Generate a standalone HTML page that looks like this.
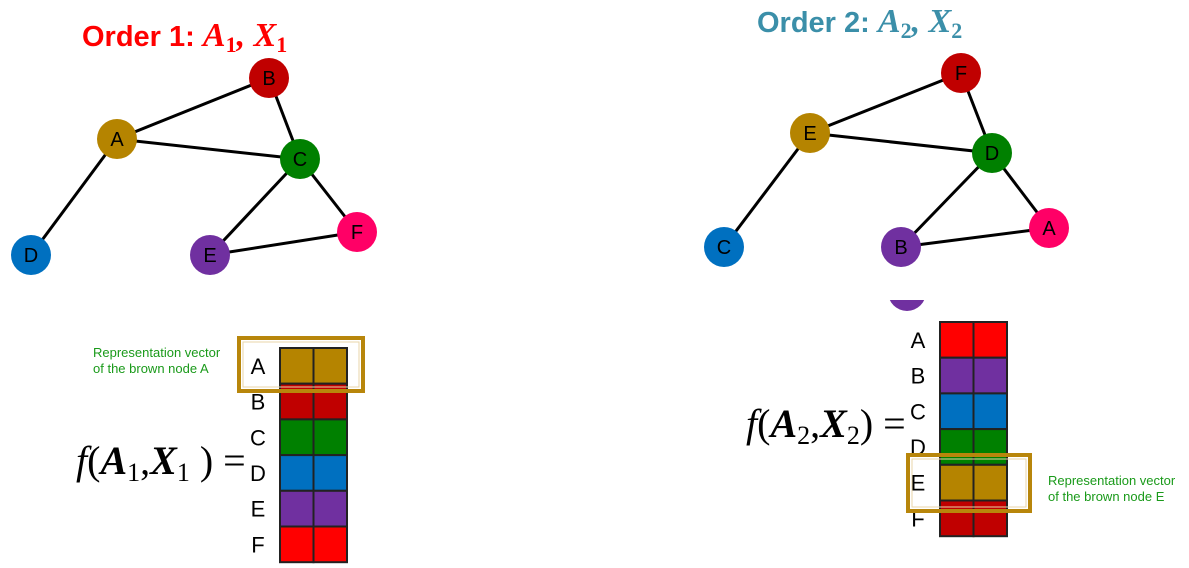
<!DOCTYPE html>
<html><head><meta charset="utf-8"><style>
body{margin:0;background:#fff;width:1189px;height:568px;overflow:hidden;}
svg{display:block}
</style></head><body>
<svg width="1189" height="568" viewBox="0 0 1189 568" font-family="Liberation Sans, sans-serif">
<text x="82" y="46" font-size="29" font-weight="bold" fill="#ff0000">Order 1: <tspan font-family="Liberation Serif, serif" font-style="italic" font-size="34">A</tspan><tspan font-size="22" dy="6" font-family="Liberation Serif, serif">1</tspan><tspan dy="-6" font-family="Liberation Serif, serif" font-style="italic" font-size="34">, X</tspan><tspan font-size="22" dy="6" font-family="Liberation Serif, serif">1</tspan></text>
<text x="757" y="32" font-size="29" font-weight="bold" fill="#3b8fa9">Order 2: <tspan font-family="Liberation Serif, serif" font-style="italic" font-size="34">A</tspan><tspan font-size="22" dy="6" font-family="Liberation Serif, serif">2</tspan><tspan dy="-6" font-family="Liberation Serif, serif" font-style="italic" font-size="34">, X</tspan><tspan font-size="22" dy="6" font-family="Liberation Serif, serif">2</tspan></text>
<g id="g1"></g>
<g id="g2"></g>
<circle cx="907" cy="292" r="19" fill="#7030a0"/>
<rect x="870" y="272" width="80" height="28" fill="#fff"/>
<g id="m1"></g>
<g id="m2"></g>
<text x="76" y="474" font-size="40" font-family="Liberation Serif, serif"><tspan font-style="italic">f</tspan>(<tspan font-weight="bold" font-style="italic">A</tspan><tspan font-size="26" dy="7">1</tspan><tspan dy="-7">,</tspan><tspan font-weight="bold" font-style="italic">X</tspan><tspan font-size="26" dy="7">1</tspan><tspan dy="-7"> ) =</tspan></text>
<text x="746" y="437" font-size="40" font-family="Liberation Serif, serif"><tspan font-style="italic">f</tspan>(<tspan font-weight="bold" font-style="italic">A</tspan><tspan font-size="26" dy="7">2</tspan><tspan dy="-7">,</tspan><tspan font-weight="bold" font-style="italic">X</tspan><tspan font-size="26" dy="7">2</tspan><tspan dy="-7">) =</tspan></text>
<text x="93" y="357" font-size="13" fill="#1a9a1a"><tspan x="93">Representation vector</tspan><tspan x="93" dy="16">of the brown node A</tspan></text>
<text x="1048" y="485" font-size="13" fill="#1a9a1a"><tspan x="1048">Representation vector</tspan><tspan x="1048" dy="16">of the brown node E</tspan></text>
<rect x="239" y="338" width="124" height="53" fill="none" stroke="#b8860b" stroke-width="4"/>
<rect x="243" y="342" width="116" height="45" fill="none" stroke="#e8d6a8" stroke-width="1"/>
<rect x="908" y="455" width="122" height="56" fill="none" stroke="#b8860b" stroke-width="4"/>
<rect x="912" y="459" width="114" height="48" fill="none" stroke="#e8d6a8" stroke-width="1"/>
</svg>
<script>
const C={brown:'#b58400',red:'#c00000',green:'#008000',blue:'#0070c0',purple:'#7030a0',pink:'#ff0066',bright:'#ff0000'};
const nodes1=[['A',117,139,'brown'],['B',269,78,'red'],['C',300,159,'green'],['D',31,255,'blue'],['E',210,255,'purple'],['F',357,232,'pink']];
const edges1=[['A','B'],['A','C'],['A','D'],['B','C'],['C','E'],['C','F'],['E','F']];
const nodes2=[['E',810,133,'brown'],['F',961,73,'red'],['D',992,153,'green'],['C',724,247,'blue'],['B',901,247,'purple'],['A',1049,228,'pink']];
const edges2=[['E','F'],['E','D'],['E','C'],['F','D'],['D','B'],['D','A'],['B','A']];
const rows1=['A','B','C','D','E','F'], cols1=['brown','red','green','blue','purple','bright'];
const rows2=['A','B','C','D','E','F'], cols2=['bright','purple','blue','green','brown','red'];
const NS='http://www.w3.org/2000/svg';
function mk(t,a,p){const e=document.createElementNS(NS,t);for(const k in a)e.setAttribute(k,a[k]);p.appendChild(e);return e;}
function graph(id,nodes,edges){
 const g=document.getElementById(id);const m={};nodes.forEach(n=>m[n[0]]=n);
 edges.forEach(e=>{const a=m[e[0]],b=m[e[1]];const l=mk('line',{x1:a[1],y1:a[2],x2:b[1],y2:b[2],stroke:'#000','stroke-width':3},g);
 
 });
 nodes.forEach(n=>{const c=mk('circle',{cx:n[1],cy:n[2],r:20,fill:C[n[3]]},g);
 
 
 const t=mk('text',{x:n[1],y:n[2]+7,'text-anchor':'middle','font-size':20,fill:'#000'},g);t.textContent=n[0];});
}
function matrix(id,rows,cols,x,y,h){
 const g=document.getElementById(id);
 rows.forEach((r,i)=>{const yy=y+i*h;
  for(let j=0;j<2;j++){const c=mk('rect',{x:x+j*33.5,y:yy,width:33.5,height:h,fill:C[cols[i]],stroke:'#222','stroke-width':2},g);
   
   }
  const t=mk('text',{x:x-22,y:yy+h/2+8,'text-anchor':'middle','font-size':22,fill:'#000'},g);t.textContent=r;
  
  });
}
graph('g1',nodes1,edges1);graph('g2',nodes2,edges2);
matrix('m1',rows1,cols1,280,348,35.7);matrix('m2',rows2,cols2,940,322,35.7);
</script>
</body></html>
